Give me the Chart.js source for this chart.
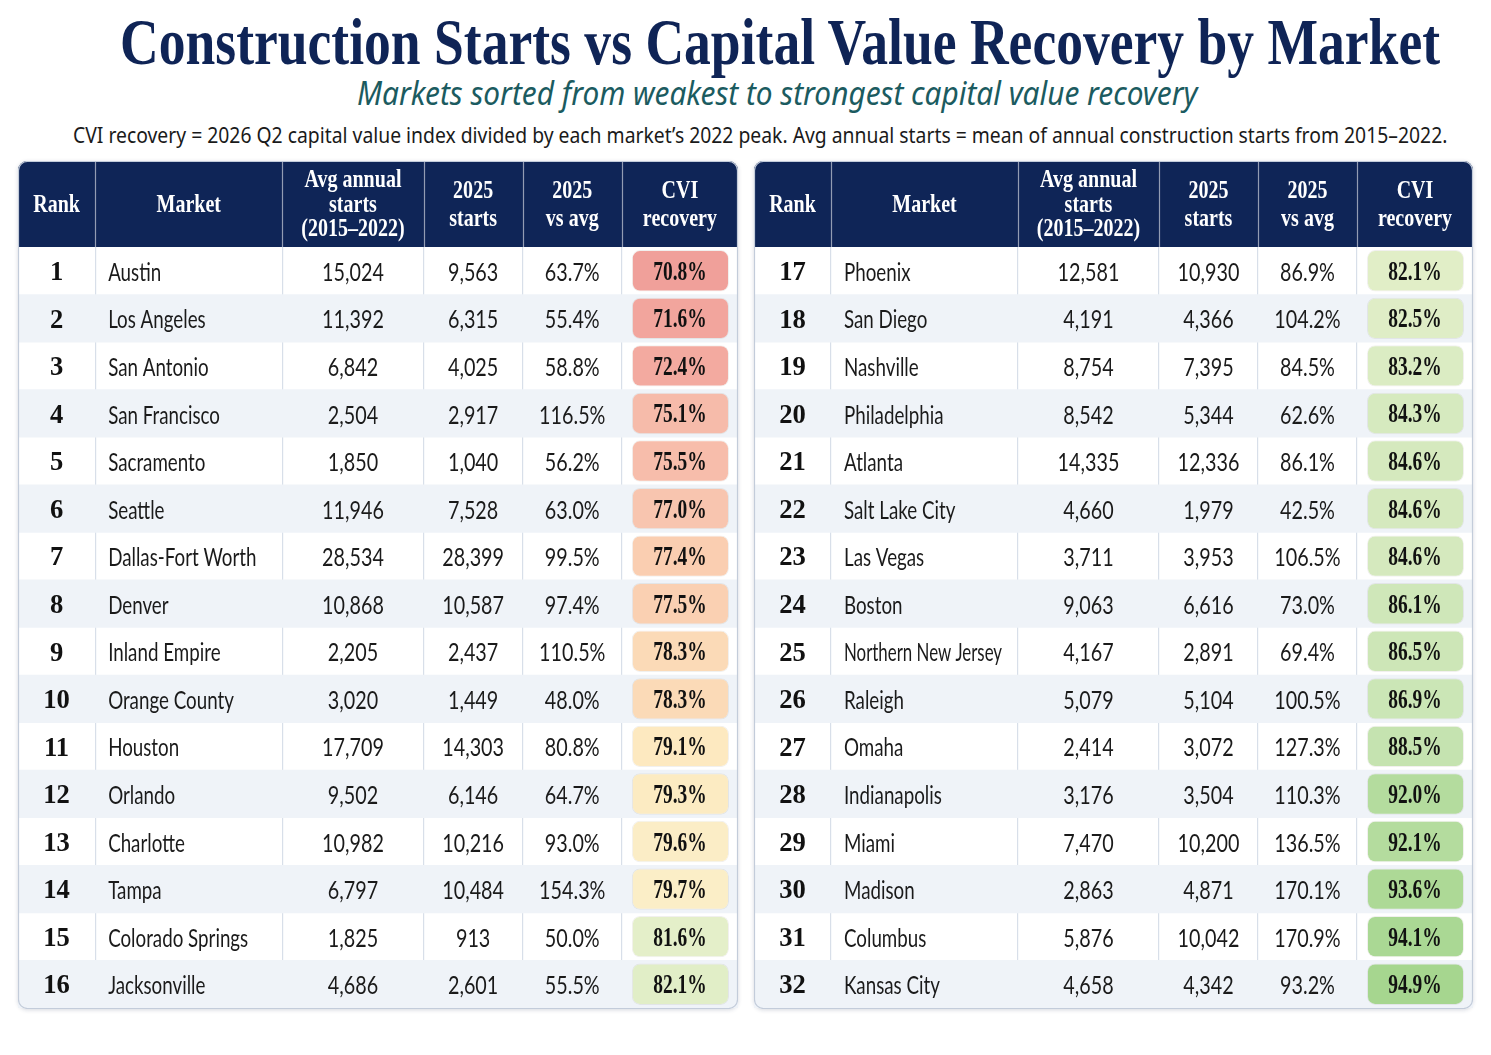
<!DOCTYPE html>
<html>
<head>
<meta charset="utf-8">
<script src="https://cdn.jsdelivr.net/npm/chart.js@4.4.1/dist/chart.umd.min.js"></script>
<style>
  body { margin: 0; background: #fff; width: 1491px; height: 1055px; position: relative; overflow: hidden; }
  .fit { position: absolute; white-space: nowrap; line-height: 1; transform-origin: 0 0; }
  #title { font-family: "Liberation Serif", serif; font-weight: bold; font-size: 66px; color: #0f2456; left: 120px; top: 9px; }
  #subtitle { font-family: "Noto Sans", sans-serif; font-style: italic; font-size: 32px; color: #1b5b60; left: 357px; top: 77px; }
  #note { font-family: "Noto Sans", sans-serif; font-size: 22px; color: #1a1a1a; left: 73px; top: 123px; }
  .tbl { position: absolute; top: 161px; height: 848px; border-radius: 9px; box-shadow: 0 1px 4px rgba(20,40,80,0.18); }
  #leftWrap { left: 18px; width: 720px; }
  #rightWrap { left: 754px; width: 719px; }
</style>
</head>
<body>
<div id="title" class="fit" data-w="1320">Construction Starts vs Capital Value Recovery by Market</div>
<div id="subtitle" class="fit" data-w="840">Markets sorted from weakest to strongest capital value recovery</div>
<div id="note" class="fit" data-w="1374">CVI recovery = 2026 Q2 capital value index divided by each market’s 2022 peak. Avg annual starts = mean of annual construction starts from 2015–2022.</div>
<div id="leftWrap" class="tbl"><canvas id="leftTable"></canvas></div>
<div id="rightWrap" class="tbl"><canvas id="rightTable"></canvas></div>
<script>
// ---- data ----
const ranks = [1, 2, 3, 4, 5, 6, 7, 8, 9, 10, 11, 12, 13, 14, 15, 16,
  17, 18, 19, 20, 21, 22, 23, 24, 25, 26, 27, 28, 29, 30, 31, 32];
const markets = ['Austin', 'Los Angeles', 'San Antonio', 'San Francisco', 'Sacramento', 'Seattle',
  'Dallas-Fort Worth', 'Denver', 'Inland Empire', 'Orange County', 'Houston', 'Orlando', 'Charlotte',
  'Tampa', 'Colorado Springs', 'Jacksonville', 'Phoenix', 'San Diego', 'Nashville', 'Philadelphia',
  'Atlanta', 'Salt Lake City', 'Las Vegas', 'Boston', 'Northern New Jersey', 'Raleigh', 'Omaha',
  'Indianapolis', 'Miami', 'Madison', 'Columbus', 'Kansas City'];
const avgStarts = [15024, 11392, 6842, 2504, 1850, 11946, 28534, 10868, 2205, 3020, 17709, 9502, 10982,
  6797, 1825, 4686, 12581, 4191, 8754, 8542, 14335, 4660, 3711, 9063, 4167, 5079, 2414, 3176, 7470,
  2863, 5876, 4658];
const starts2025 = [9563, 6315, 4025, 2917, 1040, 7528, 28399, 10587, 2437, 1449, 14303, 6146, 10216,
  10484, 913, 2601, 10930, 4366, 7395, 5344, 12336, 1979, 3953, 6616, 2891, 5104, 3072, 3504, 10200,
  4871, 10042, 4342];
const vsAvg = [63.7, 55.4, 58.8, 116.5, 56.2, 63.0, 99.5, 97.4, 110.5, 48.0, 80.8, 64.7, 93.0, 154.3,
  50.0, 55.5, 86.9, 104.2, 84.5, 62.6, 86.1, 42.5, 106.5, 73.0, 69.4, 100.5, 127.3, 110.3, 136.5,
  170.1, 170.9, 93.2];
const cviRecovery = [70.8, 71.6, 72.4, 75.1, 75.5, 77.0, 77.4, 77.5, 78.3, 78.3, 79.1, 79.3, 79.6, 79.7,
  81.6, 82.1, 82.1, 82.5, 83.2, 84.3, 84.6, 84.6, 84.6, 86.1, 86.5, 86.9, 88.5, 92.0, 92.1, 93.6,
  94.1, 94.9];
const headers = [['Rank'], ['Market'], ['Avg annual', 'starts', '(2015–2022)'], ['2025', 'starts'],
  ['2025', 'vs avg'], ['CVI', 'recovery']];

// ---- layout / style ----
const COL_EDGES = [0, 77, 264, 405, 504, 603, 719];
const HEADER_H = 86;
const NAVY = '#0f2557';
const STRIPE = '#eff3f8';
const colorStops = [[70.8, [240, 160, 154]], [72.4, [243, 170, 160]], [75, [246, 186, 170]],
  [77.0, [248, 197, 175]], [77.5, [250, 208, 178]], [78.3, [251, 218, 183]], [79.1, [253, 233, 192]],
  [79.7, [251, 238, 199]], [81.6, [228, 239, 201]], [84, [215, 234, 192]], [88, [199, 228, 178]],
  [95, [166, 214, 143]]];

function cviColor(v) {
  if (v <= colorStops[0][0]) return 'rgb(' + colorStops[0][1].join(',') + ')';
  for (let i = 1; i < colorStops.length; i++) {
    const [v1, c1] = colorStops[i];
    const [v0, c0] = colorStops[i - 1];
    if (v <= v1) {
      const t = (v - v0) / (v1 - v0);
      const c = c0.map((a, k) => Math.round(a + (c1[k] - a) * t));
      return 'rgb(' + c.join(',') + ')';
    }
  }
  return 'rgb(' + colorStops[colorStops.length - 1][1].join(',') + ')';
}

const fmtInt = n => n.toLocaleString('en-US');
const fmtPct = n => n.toFixed(1) + '%';

function drawText(ctx, str, x, y, font, color, align, sx, maxW) {
  ctx.save();
  ctx.font = font;
  ctx.fillStyle = color;
  ctx.textBaseline = 'middle';
  ctx.textAlign = align;
  const w = ctx.measureText(str).width;
  let s = sx;
  if (maxW && w * s > maxW) s = maxW / w;
  ctx.translate(x, y);
  ctx.scale(s, 1);
  ctx.fillText(str, 0, 0);
  ctx.restore();
}

// draws header, cell text and frame using the chart's scales
const tablePlugin = {
  id: 'tableText',
  beforeDatasetsDraw(chart) {
    const { ctx, scales: { x } } = chart;
    const w = chart.width;
    ctx.save();
    ctx.beginPath();
    ctx.roundRect(0, 0, w, HEADER_H, [9, 9, 0, 0]);
    ctx.fillStyle = NAVY;
    ctx.fill();
    ctx.strokeStyle = 'rgba(255,255,255,0.55)';
    ctx.lineWidth = 1.2;
    for (let i = 1; i < COL_EDGES.length - 1; i++) {
      const px = Math.round(x.getPixelForValue(COL_EDGES[i])) + 0.5;
      ctx.beginPath();
      ctx.moveTo(px, 0);
      ctx.lineTo(px, HEADER_H);
      ctx.stroke();
    }
    ctx.restore();
    headers.forEach((lines, c) => {
      const cx = x.getPixelForValue((COL_EDGES[c] + COL_EDGES[c + 1]) / 2);
      const lh = lines.length === 3 ? 24.5 : 28;
      const y0 = HEADER_H / 2 - (lines.length - 1) * lh / 2 + 1;
      lines.forEach((ln, k) => {
        drawText(ctx, ln, cx, y0 + k * lh, 'bold 26px "Liberation Serif"', '#ffffff', 'center', 0.77);
      });
    });
  },
  afterDatasetsDraw(chart) {
    const { ctx, scales: { x, y } } = chart;
    const d = chart.config.options.plugins.tableText;
    const center = c => x.getPixelForValue((COL_EDGES[c] + COL_EDGES[c + 1]) / 2);
    d.rows.forEach((r, i) => {
      const py = y.getPixelForValue(i) + 2;
      drawText(ctx, String(ranks[r]), center(0), py, 'bold 28px "Liberation Serif"', '#111', 'center', 0.95);
      drawText(ctx, markets[r], x.getPixelForValue(COL_EDGES[1] + 13), py, '25px Lato', '#1a1a1a', 'left', 0.75, 158);
      drawText(ctx, fmtInt(avgStarts[r]), center(2), py, '25px Lato', '#1a1a1a', 'center', 0.79);
      drawText(ctx, fmtInt(starts2025[r]), center(3), py, '25px Lato', '#1a1a1a', 'center', 0.79);
      drawText(ctx, fmtPct(vsAvg[r]), center(4), py, '25px Lato', '#1a1a1a', 'center', 0.79);
      drawText(ctx, fmtPct(cviRecovery[r]), center(5), py, 'bold 27px "Liberation Serif"', '#111', 'center', 0.72);
    });
  },
  afterDraw(chart) {
    const { ctx } = chart;
    ctx.save();
    ctx.beginPath();
    ctx.roundRect(0.5, 0.5, chart.width - 1, chart.height - 1, 9);
    ctx.strokeStyle = '#c3ccda';
    ctx.lineWidth = 1.2;
    ctx.stroke();
    ctx.restore();
  }
};

function makeTable(canvasId, rows) {
  const labels = rows.map(r => String(ranks[r]));
  const stripes = rows.map((r, i) => (i % 2 === 1 ? [COL_EDGES[0], COL_EDGES[COL_EDGES.length - 1]] : null));
  const pills = rows.map(() => [COL_EDGES[5] + 10, COL_EDGES[6] - 9]);
  return new Chart(document.getElementById(canvasId), {
    type: 'bar',
    data: {
      labels,
      datasets: [{
        label: 'stripes',
        data: stripes,
        backgroundColor: STRIPE,
        barPercentage: 1,
        categoryPercentage: 1,
        grouped: false,
        order: 2
      }, {
        label: 'CVI recovery',
        data: pills,
        backgroundColor: rows.map(r => cviColor(cviRecovery[r])),
        borderColor: 'rgba(120,110,90,0.10)',
        borderWidth: 1,
        borderSkipped: false,
        borderRadius: 8,
        barPercentage: 0.87,
        categoryPercentage: 1,
        grouped: false,
        order: 1
      }]
    },
    options: {
      indexAxis: 'y',
      responsive: true,
      maintainAspectRatio: false,
      animation: false,
      layout: { padding: { top: HEADER_H, bottom: 1, left: 0, right: 0 } },
      scales: {
        x: {
          type: 'linear',
          min: COL_EDGES[0],
          max: COL_EDGES[COL_EDGES.length - 1],
          z: 1,
          afterBuildTicks: axis => {
            axis.ticks = COL_EDGES.slice(1, -1).map(v => ({ value: v }));
          },
          ticks: { display: false },
          grid: { color: '#d8dfe9', lineWidth: 1.2, drawTicks: false },
          border: { display: false }
        },
        y: { display: false }
      },
      plugins: {
        legend: { display: false },
        tooltip: { enabled: false },
        tableText: { rows }
      }
    },
    plugins: [tablePlugin]
  });
}

const leftRows = ranks.slice(0, 16).map((_, i) => i);
const rightRows = ranks.slice(16).map((_, i) => i + 16);
makeTable('leftTable', leftRows);
makeTable('rightTable', rightRows);

// squeeze the heading lines to their measured widths
document.querySelectorAll('.fit').forEach(el => {
  const target = parseFloat(el.dataset.w);
  el.style.transform = 'scaleX(' + (target / el.offsetWidth) + ')';
});
</script>
</body>
</html>
